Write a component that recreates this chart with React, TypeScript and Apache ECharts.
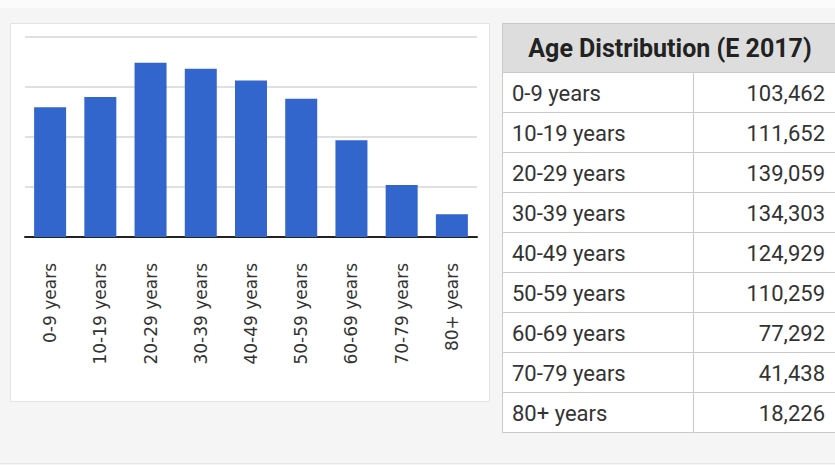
import React, { useEffect, useRef } from "react";
import * as echarts from "echarts";

const categories = [
  "0-9 years",
  "10-19 years",
  "20-29 years",
  "30-39 years",
  "40-49 years",
  "50-59 years",
  "60-69 years",
  "70-79 years",
  "80+ years",
];
const population = [103462, 111652, 139059, 134303, 124929, 110259, 77292, 41438, 18226];
const tableTitle = "Age Distribution (E 2017)";
const yMax = 160000;
const yInterval = 40000;

export default function App() {
  const ref = useRef<HTMLDivElement>(null);
  useEffect(() => {
    if (!ref.current) return;
    const chart = echarts.init(ref.current, undefined, { renderer: "svg" });

    const tableX = 502;
    const tableTop = 23;
    const headerH = 49;
    const rowH = 40;
    const colX = 693;
    const tableRight = 845;
    const border = "#c9c9c9";

    const graphics: any[] = [
      { type: "rect", z: -100, shape: { x: 0, y: 0, width: 835, height: 8 }, style: { fill: "#fbfbfb" }, silent: true },
      { type: "line", z: -99, shape: { x1: 0, y1: 463.5, x2: 835, y2: 463.5 }, style: { stroke: "#e6e6e6", lineWidth: 1 }, silent: true },
      {
        type: "rect",
        z: -50,
        shape: { x: 10.5, y: 23.5, width: 479, height: 378 },
        style: { fill: "#ffffff", stroke: "#e4e4e4", lineWidth: 1 },
        silent: true,
      },
      {
        type: "rect",
        shape: { x: tableX + 0.5, y: tableTop + 0.5, width: tableRight - tableX, height: headerH },
        style: { fill: "#dddddd", stroke: border, lineWidth: 1 },
        silent: true,
      },
      {
        type: "text",
        x: 670,
        y: tableTop + headerH / 2 + 1,
        style: {
          text: tableTitle,
          fontFamily: "Roboto",
          fontWeight: "bold",
          fontSize: 25,
          fill: "#222222",
          align: "center",
          verticalAlign: "middle",
        },
        silent: true,
      },
    ];

    categories.forEach((c, i) => {
      const y = tableTop + headerH + i * rowH;
      graphics.push({
        type: "rect",
        shape: { x: tableX + 0.5, y: y + 0.5, width: colX - tableX, height: rowH },
        style: { fill: "#ffffff", stroke: border, lineWidth: 1 },
        silent: true,
      });
      graphics.push({
        type: "rect",
        shape: { x: colX + 0.5, y: y + 0.5, width: tableRight - colX, height: rowH },
        style: { fill: "#ffffff", stroke: border, lineWidth: 1 },
        silent: true,
      });
      graphics.push({
        type: "text",
        x: 512,
        y: y + rowH / 2 + 1,
        style: {
          text: c,
          fontFamily: "Roboto",
          fontSize: 22,
          fill: "#333333",
          align: "left",
          verticalAlign: "middle",
        },
        silent: true,
      });
      graphics.push({
        type: "text",
        x: 825,
        y: y + rowH / 2 + 1,
        style: {
          text: population[i].toLocaleString("en-US"),
          fontFamily: "Roboto",
          fontSize: 22,
          fill: "#333333",
          align: "right",
          verticalAlign: "middle",
        },
        silent: true,
      });
    });

    chart.setOption({
      animation: false,
      backgroundColor: "#f5f5f5",
      grid: { left: 25, right: 358, top: 36.5, bottom: 228, containLabel: false },
      xAxis: {
        type: "category",
        data: categories,
        axisLine: { show: true, lineStyle: { color: "#222222", width: 2 } },
        axisTick: { show: false },
        axisLabel: {
          rotate: 90,
          margin: 26,
          interval: 0,
          fontFamily: "DejaVu Sans",
          fontSize: 17,
          color: "#333333",
        },
      },
      yAxis: {
        type: "value",
        min: 0,
        max: yMax,
        interval: yInterval,
        axisLabel: { show: false },
        axisLine: { show: false },
        axisTick: { show: false },
        splitLine: { show: true, lineStyle: { color: "#d6d6d6", width: 1.5 } },
      },
      series: [
        {
          type: "bar",
          data: population,
          barWidth: 32,
          itemStyle: { color: "#3366cc" },
        },
      ],
      graphic: graphics,
    });
    return () => chart.dispose();
  }, []);
  return (
    <div
      ref={ref}
      style={{ position: "fixed", left: 0, top: 0, width: 835, height: 465 }}
    />
  );
}
